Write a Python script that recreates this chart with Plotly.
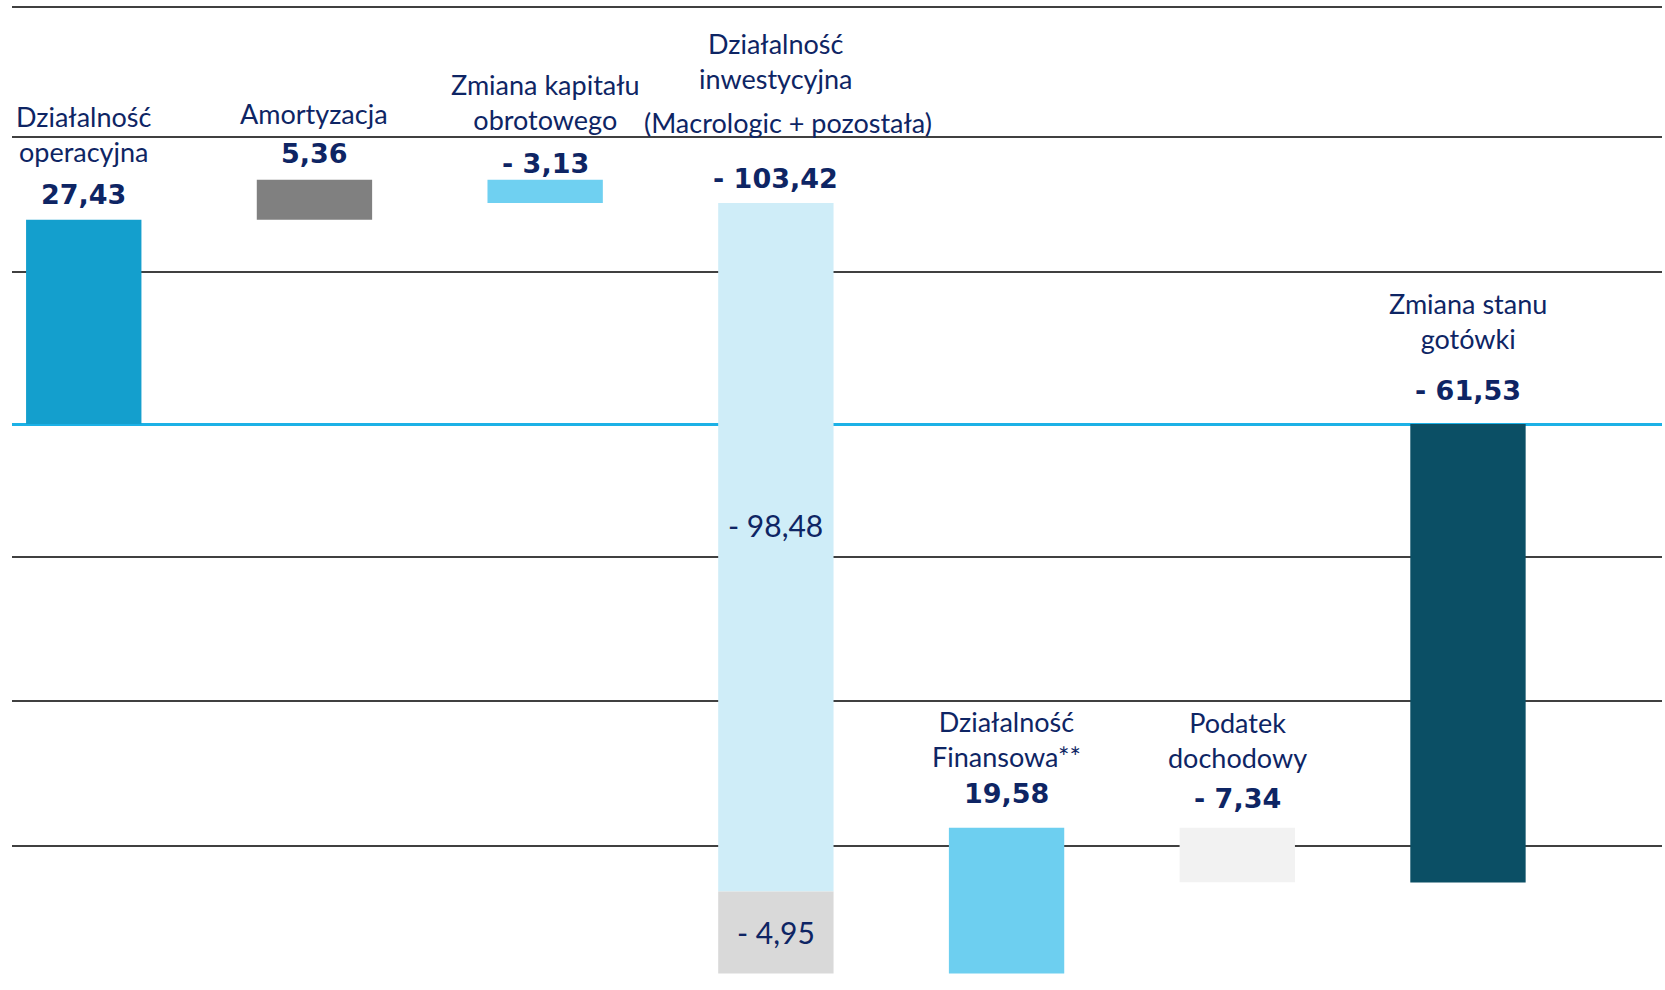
import plotly.graph_objects as go

# ---------------- data ----------------
categories = ["Działalność operacyjna", "Amortyzacja", "Zmiana kapitału obrotowego",
              "Działalność inwestycyjna", "Działalność Finansowa**", "Podatek dochodowy",
              "Zmiana stanu gotówki"]
name_labels = ["Działalność<br>operacyjna", "Amortyzacja", "Zmiana kapitału<br>obrotowego",
               "Działalność<br>inwestycyjna", "Działalność<br>Finansowa**", "Podatek<br>dochodowy",
               "Zmiana stanu<br>gotówki"]
invest_note = "(Macrologic + pozostała)"
values = [27.43, 5.36, -3.13, -103.42, 19.58, -7.34, -61.53]
is_total = [False, False, False, False, False, False, True]
value_labels = ["27,43", "5,36", "- 3,13", "- 103,42", "19,58", "- 7,34", "- 61,53"]
# investment bar split as drawn in the picture, with its printed labels
invest_parts_drawn = [-92.4, -11.0]
invest_part_labels = ["- 98,48", "- 4,95"]
grid_values = [55.97, 38.52, 20.40, -17.85, -37.18, -56.64]

# ---------------- styles / layout tuning ----------------
bar_colors = ["#149FCD", "#808080", "#6FD0F1", None, "#6DCFF0", "#F2F2F2", "#0B4F65"]
invest_colors = ["#CFEDF8", "#D9D9D9"]
NAVY = "#0E2564"
value_gap = [25, 26, 16, 25, 34, 29, 34]     # px from bar top to value label centre
name_gap = [68, 66, 60, 124, 71, 70, 85]     # px from bar top to last name line centre
INV = 3

# running bases of the waterfall
bases, tops = [], []
run = 0.0
for v, tot in zip(values, is_total):
    b = 0.0 if tot else run
    bases.append(b)
    tops.append(max(b, b + v))
    run = v if tot else run + v

fig = go.Figure()

idx = [i for i in range(len(categories)) if i != INV]
fig.add_trace(go.Bar(
    x=[categories[i] for i in idx],
    y=[values[i] for i in idx],
    base=[bases[i] for i in idx],
    marker=dict(color=[bar_colors[i] for i in idx], line=dict(width=0)),
    width=0.5, hoverinfo="skip", showlegend=False,
))

b = bases[INV]
for part, col, lab in zip(invest_parts_drawn, invest_colors, invest_part_labels):
    fig.add_trace(go.Bar(
        x=[categories[INV]], y=[part], base=[b],
        marker=dict(color=col, line=dict(width=0)),
        width=0.5, hoverinfo="skip", showlegend=False,
    ))
    fig.add_annotation(x=categories[INV], y=b + part / 2, text=lab, showarrow=False,
                       yshift=22 if lab == invest_part_labels[0] else 0,
                       font=dict(family="Lato", size=30, color=NAVY))
    b += part

for i, c in enumerate(categories):
    fig.add_annotation(x=c, y=tops[i], text="<b>" + value_labels[i] + "</b>",
                       showarrow=False, yanchor="middle", yshift=value_gap[i],
                       font=dict(family="DejaVu Sans", size=27, color=NAVY))
    fig.add_annotation(x=c, y=tops[i], text=name_labels[i],
                       showarrow=False, yanchor="bottom", yshift=name_gap[i] - 18,
                       font=dict(family="Lato", size=27, color=NAVY))

fig.add_annotation(x=categories[INV], y=tops[INV], text=invest_note, showarrow=False,
                   yanchor="middle", yshift=81, xshift=12,
                   font=dict(family="Lato", size=27, color=NAVY))

fig.update_layout(
    width=1665, height=990,
    margin=dict(l=12, r=3, t=0, b=0),
    paper_bgcolor="white", plot_bgcolor="white",
    barmode="overlay",
    xaxis=dict(type="category", categoryorder="array", categoryarray=categories,
               range=[-0.311, 6.841], showticklabels=False,
               showgrid=False, zeroline=False, showline=False, fixedrange=True),
    yaxis=dict(range=[-75.97, 56.91], tickvals=grid_values, showticklabels=False,
               showgrid=True, gridcolor="#404040", gridwidth=2,
               zeroline=True, zerolinecolor="#1CB1E6", zerolinewidth=3,
               showline=False, fixedrange=True),
)

fig.write_html("out.html", config={"displayModeBar": False},
               post_script="document.body.style.margin='0';document.body.style.overflow='hidden';")
